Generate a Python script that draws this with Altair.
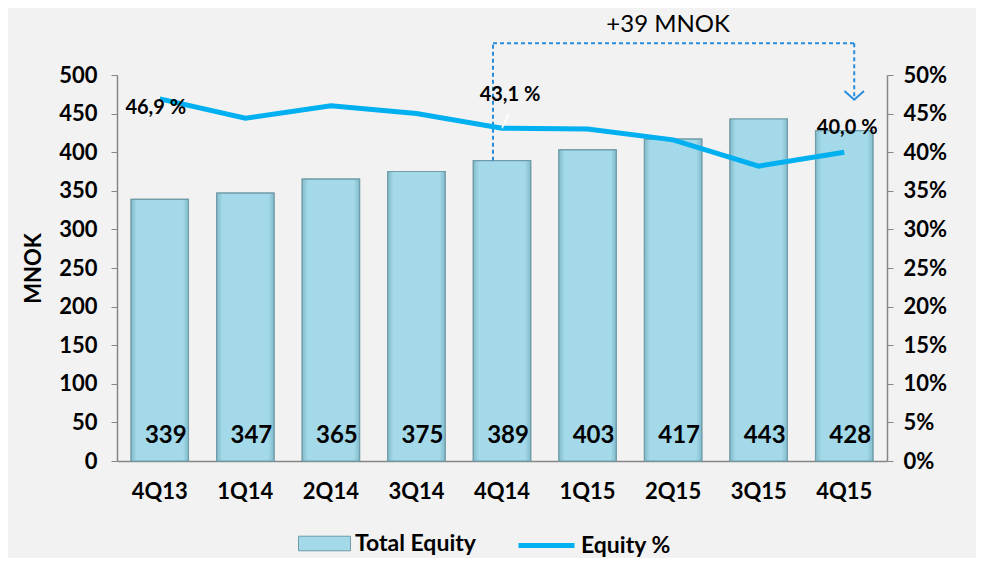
import altair as alt
import pandas as pd

# ---- data ----
quarters = ["4Q13", "1Q14", "2Q14", "3Q14", "4Q14", "1Q15", "2Q15", "3Q15", "4Q15"]
total_equity = [339, 347, 365, 375, 389, 403, 417, 443, 428]
equity_pct = [46.9, 44.4, 46.0, 45.0, 43.1, 43.0, 41.6, 38.2, 40.0]
pct_label_quarters = ["4Q13", "4Q14", "4Q15"]
pct_label_texts = ["46,9 %", "43,1 %", "40,0 %"]
left_ticks = list(range(0, 501, 50))
right_ticks = list(range(0, 51, 5))

FONT = "Lato"
BAR_FILL = "#a3d9e8"
BAR_EDGE = "#84bccb"
BAR_STROKE = "#6f9ca8"
LINE_COLOR = "#00b0f0"
DASH_COLOR = "#2a8ddb"

df = pd.DataFrame({
    "quarter": quarters,
    "equity": total_equity,
    "pct": equity_pct,
    "s_bar": "Total Equity",
    "s_line": "Equity %",
})

x_scale = alt.Scale(domain=quarters, paddingInner=0.33, paddingOuter=0.165)
x_axis = alt.Axis(labelAngle=0, ticks=False, labelPadding=20, domainColor="#868686",
                  domainWidth=1.5)
yl_scale = alt.Scale(domain=[0, 500], nice=False)
yl_axis = alt.Axis(values=left_ticks, grid=False, tickSize=6, labelPadding=14,
                   titlePadding=13, domainColor="#868686", tickColor="#868686",
                   domainWidth=1.5, labelOverlap=False)
yr_scale = alt.Scale(domain=[0, 50], nice=False)
yr_axis = alt.Axis(orient="right", values=right_ticks, grid=False, tickSize=6,
                   labelPadding=10, labelExpr="datum.value + '%'", labelOverlap=False,
                   domainColor="#868686", tickColor="#868686", domainWidth=1.5)


def xq(field):
    return alt.X(field, type="nominal", scale=x_scale, axis=x_axis, title=None)


def yl(field):
    return alt.Y(field, type="quantitative", scale=yl_scale, axis=yl_axis, title="MNOK")


def yr(field):
    return alt.Y(field, type="quantitative", scale=yr_scale, axis=yr_axis, title=None)


bars = alt.Chart(df).mark_bar(stroke=BAR_STROKE, strokeWidth=1.2).encode(
    x=xq("quarter"),
    y=yl("equity"),
    color=alt.Color("s_bar:N", scale=alt.Scale(range=[BAR_FILL]),
                    legend=alt.Legend(title=None, orient="none", legendX=181, legendY=442,
                                      symbolType="M-1,-0.28L1,-0.28L1,0.28L-1,0.28Z",
                                      symbolSize=2704, symbolStrokeColor=BAR_STROKE,
                                      symbolStrokeWidth=1, labelOffset=4)),
)
# bevel-like shading drawn over the bars
bar_shade = alt.Chart(df).mark_bar(
    stroke=BAR_STROKE, strokeWidth=1.2,
    fill=alt.Gradient(gradient="linear", x1=0, x2=1, y1=0, y2=0, stops=[
        alt.GradientStop(offset=0, color=BAR_EDGE),
        alt.GradientStop(offset=0.1, color=BAR_FILL),
        alt.GradientStop(offset=0.9, color=BAR_FILL),
        alt.GradientStop(offset=1, color=BAR_EDGE),
    ]),
).encode(x=xq("quarter"), y=yl("equity"))

bar_df = df.assign(base=0)
bar_labels = alt.Chart(bar_df).mark_text(
    font=FONT, fontWeight="bold", fontSize=24, color="black", dy=-25, dx=6, baseline="middle"
).encode(x=xq("quarter"), y=yl("base"), text="equity:Q")

# annotation bracket "+39 MNOK"
start_val = total_equity[quarters.index("4Q14")]
end_val = total_equity[quarters.index("4Q15")]
bracket_level = 541
arrow_tip = 468
ann = pd.DataFrame({
    "q1": ["4Q14"], "q2": ["4Q15"], "start": [start_val], "level": [bracket_level],
    "tip": [arrow_tip], "text": [f"+{end_val - start_val} MNOK"], "qmid": ["2Q15"],
    "top": [565],
})
dash = dict(color=DASH_COLOR, strokeDash=[4, 3], strokeWidth=2)
ann_left = alt.Chart(ann).mark_rule(xOffset=-9, **dash).encode(
    x=xq("q1"), y=yl("start"), y2="level:Q")
ann_top = alt.Chart(ann).mark_rule(xOffset=-9, x2Offset=10, **dash).encode(
    x=xq("q1"), x2="q2:N", y=yl("level"))
ann_right = alt.Chart(ann).mark_rule(xOffset=10, **dash).encode(
    x=xq("q2"), y=yl("level"), y2="tip:Q")
ann_arrow = alt.Chart(ann).mark_point(
    shape="M-1,-0.9L0,0L1,-0.9", filled=False, size=380, strokeWidth=2,
    color=DASH_COLOR, xOffset=10, opacity=1
).encode(x=xq("q2"), y=yl("tip"))
ann_text = alt.Chart(ann).mark_text(
    font=FONT, fontSize=24, color="black", dx=-5, baseline="middle"
).encode(x=xq("qmid"), y=yl("top"), text="text:N")

left_group = alt.layer(bars, bar_shade, bar_labels, ann_left, ann_top, ann_right,
                       ann_arrow, ann_text)

line = alt.Chart(df).mark_line(color=LINE_COLOR, strokeWidth=5).encode(
    x=xq("quarter"),
    y=yr("pct"),
    stroke=alt.Stroke("s_line:N", scale=alt.Scale(range=[LINE_COLOR]),
                      legend=alt.Legend(title=None, orient="none", legendX=399, legendY=440,
                                        symbolType="stroke", symbolSize=3136,
                                        symbolStrokeWidth=5, labelOffset=4)),
)

pct_layers = []
offsets = {"4Q13": (-4, 9), "4Q14": (8, -33), "4Q15": (3, -24)}
for q, t in zip(pct_label_quarters, pct_label_texts):
    sub = df[df["quarter"] == q].assign(label=t)
    dx, dy = offsets[q]
    pct_layers.append(
        alt.Chart(sub).mark_text(font=FONT, fontWeight="bold", fontSize=20, color="black",
                                 dx=dx, dy=dy, baseline="middle").encode(
            x=xq("quarter"), y=yr("pct"), text="label:N")
    )

leader = pd.DataFrame({"quarter": ["4Q14"], "p1": [equity_pct[4]], "p2": [45.0]})
leader_line = alt.Chart(leader).mark_rule(color="white", strokeWidth=1.5, xOffset=0,
                                           x2Offset=7).encode(
    x=xq("quarter"), x2="quarter:N", y=yr("p1"), y2="p2:Q")

right_group = alt.layer(line, leader_line, *pct_layers)

chart = alt.layer(left_group, right_group).resolve_scale(y="independent").properties(
    width=770, height=386,
    autosize=alt.AutoSizeParams(type="none"),
    padding={"left": 109, "top": 67, "right": 89, "bottom": 97},
    background="#f2f2f2",
).configure_view(strokeWidth=0).configure_axis(
    labelFont=FONT, labelFontWeight="bold", labelFontSize=22, labelColor="black",
    titleFont=FONT, titleFontWeight="bold", titleFontSize=22, titleColor="black",
).configure_legend(
    labelFont=FONT, labelFontWeight="bold", labelFontSize=23, labelColor="black",
)

chart.save("out.html", embed_options={"renderer": "svg", "actions": False})
